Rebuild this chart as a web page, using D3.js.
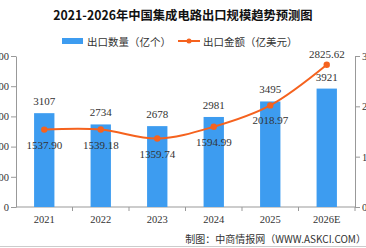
<!DOCTYPE html>
<html>
<head>
<meta charset="utf-8">
<script src="https://cdn.jsdelivr.net/npm/d3@7"></script>
<style>
  body { margin: 0; background: #fff; }
  svg { display: block; }
  text { font-family: "Liberation Serif", "DejaVu Serif", "Noto Sans CJK SC", serif; fill: #333; }
  .cn { font-family: "Noto Sans CJK SC", sans-serif; }
  .axis path, .axis line { stroke: #999; }
</style>
</head>
<body>
<div id="chart"></div>
<script>
var years = ["2021", "2022", "2023", "2024", "2025", "2026E"];
var volume = [3107, 2734, 2678, 2981, 3495, 3921];          // 亿个
var amount = [1537.90, 1539.18, 1359.74, 1594.99, 2018.97, 2825.62]; // 亿美元
var leftTicks = [0, 1000, 2000, 3000, 4000, 5000];
var rightTicks = [0, 1000, 2000, 3000];

var W = 366, H = 248;
var margin = {top: 56, right: 11, bottom: 41, left: 16},
    width = W - margin.left - margin.right,
    height = H - margin.top - margin.bottom;

var svg = d3.select("#chart").append("svg")
            .attr("width", W)
            .attr("height", H);

// Title
svg.append("text")
   .attr("class", "cn")
   .attr("x", 183).attr("y", 19.5)
   .attr("text-anchor", "middle")
   .style("font-size", "12.3px")
   .style("font-weight", "bold")
   .style("fill", "#111")
   .text("2021-2026年中国集成电路出口规模趋势预测图");

// Legend
var leg = svg.append("g");
leg.append("rect").attr("x", 62).attr("y", 38).attr("width", 21).attr("height", 6).attr("fill", "#3d9cf0");
leg.append("text").attr("class", "cn").attr("x", 87).attr("y", 45.5)
   .style("font-size", "10.5px").text("出口数量（亿个）");
leg.append("line").attr("x1", 178).attr("x2", 200).attr("y1", 41).attr("y2", 41)
   .attr("stroke", "#f5621e").attr("stroke-width", 2);
leg.append("circle").attr("cx", 189).attr("cy", 41).attr("r", 2.5).attr("fill", "#f5621e");
leg.append("text").attr("class", "cn").attr("x", 203).attr("y", 45.5)
   .style("font-size", "10.5px").text("出口金额（亿美元）");

var g = svg.append("g").attr("transform", "translate(" + margin.left + "," + margin.top + ")");

// Scales
var x = d3.scaleBand().domain(years).range([0, width]).paddingInner(0.64).paddingOuter(0.32);
var xb = d3.scaleBand().domain(years).range([0, width]);
var yL = d3.scaleLinear().domain([0, 5000]).range([height, 0]);
var yR = d3.scaleLinear().domain([0, 3000]).range([height, 0]);

// Axes
var xAxis = d3.axisBottom(xb).tickSize(0).tickPadding(9);
g.append("g").attr("class", "x axis")
 .attr("transform", "translate(0," + height + ")")
 .call(xAxis)
 .call(function(s) { s.select(".domain").remove(); s.selectAll("text").style("font-size", "10.5px"); });

g.append("line").attr("x1", 0).attr("x2", width).attr("y1", height).attr("y2", height).attr("stroke", "#999");
g.selectAll(".xtick").data(years).enter().append("line")
 .attr("x1", function(d) { return xb(d) + xb.bandwidth(); })
 .attr("x2", function(d) { return xb(d) + xb.bandwidth(); })
 .attr("y1", height).attr("y2", height + 4).attr("stroke", "#999");

g.append("g").attr("class", "y axis")
 .call(d3.axisLeft(yL).tickValues(leftTicks).tickSize(5).tickPadding(2).tickSizeOuter(0))
 .call(function(s) { s.selectAll("text").style("font-size", "10.5px"); });

g.append("g").attr("class", "y axis")
 .attr("transform", "translate(" + width + ",0)")
 .call(d3.axisRight(yR).tickValues(rightTicks).tickSize(5).tickPadding(2).tickSizeOuter(0))
 .call(function(s) { s.selectAll("text").style("font-size", "10.5px"); });

// Bars
g.selectAll(".bar").data(volume).enter().append("rect")
 .attr("class", "bar")
 .attr("x", function(d, i) { return x(years[i]); })
 .attr("y", function(d) { return yL(d); })
 .attr("width", x.bandwidth())
 .attr("height", function(d) { return height - yL(d); })
 .attr("fill", "#3d9cf0");

g.selectAll(".barLabel").data(volume).enter().append("text")
 .attr("x", function(d, i) { return x(years[i]) + x.bandwidth() / 2; })
 .attr("y", function(d) { return yL(d) - 8; })
 .attr("text-anchor", "middle")
 .style("font-size", "11px")
 .text(function(d) { return d; });

// Line
var line = d3.line()
  .x(function(d, i) { return xb(years[i]) + xb.bandwidth() / 2; })
  .y(function(d) { return yR(d); })
  .curve(d3.curveCatmullRom.alpha(0.5));

g.append("path").datum(amount)
 .attr("d", line)
 .attr("fill", "none")
 .attr("stroke", "#f5621e")
 .attr("stroke-width", 2);

g.selectAll(".dot").data(amount).enter().append("circle")
 .attr("cx", function(d, i) { return xb(years[i]) + xb.bandwidth() / 2; })
 .attr("cy", function(d) { return yR(d); })
 .attr("r", 3.2)
 .attr("fill", "#f5621e");

g.selectAll(".lineLabel").data(amount).enter().append("text")
 .attr("x", function(d, i) { return xb(years[i]) + xb.bandwidth() / 2; })
 .attr("y", function(d, i) { return i === 5 ? yR(d) - 7 : yR(d) + 19; })
 .attr("text-anchor", "middle")
 .style("font-size", "11px")
 .text(function(d) { return d.toFixed(2); });

// Source
svg.append("text").attr("class", "cn")
   .attr("x", 366).attr("y", 243)
   .attr("text-anchor", "end")
   .style("font-size", "10px")
   .text("制图：中商情报网（WWW.ASKCI.COM）");

svg.append("line").attr("x1", 0).attr("x2", W).attr("y1", 246.5).attr("y2", 246.5).attr("stroke", "#ccc");
</script>
</body>
</html>
